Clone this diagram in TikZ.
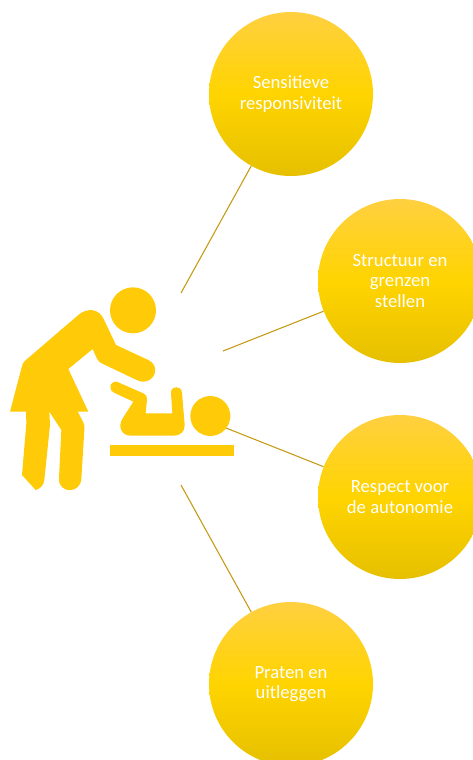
\documentclass[tikz,border=0pt]{standalone}
\usepackage{fontspec}
\setmainfont{Carlito}
\definecolor{icongold}{HTML}{FFCA08}
\definecolor{linegold}{HTML}{C49A12}
\definecolor{balltop}{HTML}{FFD040}
\definecolor{ballmid}{HTML}{FFD400}
\definecolor{ballbottom}{HTML}{E6C000}
\begin{document}
\begin{tikzpicture}[x=0.75pt,y=-0.75pt,
    ball/.style = {circle,minimum size=123pt,inner sep=0pt,align=center,text=white,
        top color=balltop,bottom color=ballbottom,middle color=ballmid,
        font=\fontsize{14}{15.4}\selectfont},
    spoke/.style = {draw=linegold,line width=0.8pt},
    icon/.style = {fill=icongold,draw=none}]
    \useasboundingbox (0,0) rectangle (473,760);

    \coordinate (sensend) at (181,293);
    \coordinate (structend) at (223,351);
    \coordinate (respectend) at (226,428);
    \coordinate (praatend) at (181,485);

    \node[ball] (sens) at (291,94) {Sensitieve\\responsiviteit};
    \node[ball] (struct) at (400,281) {Structuur en\\grenzen\\stellen};
    \node[ball] (respect) at (400,497) {Respect voor\\de autonomie};
    \node[ball] (praat) at (291,684) {Praten en\\uitleggen};

    \draw[spoke] (sens) -- (sensend);
    \draw[spoke] (struct) -- (structend);
    \draw[spoke] (respect) -- (respectend);
    \draw[spoke] (praat) -- (praatend);

    \begin{scope}[yshift=-202.5pt,x=0.25pt,y=-0.25pt]
        \fill[icon] (399,121) circle (17.25pt);
        \fill[icon] (30,425) -- (66,288) .. controls (69,277) and (74,273) .. (80,268)
            -- (235,135) .. controls (262,112) and (297,116) .. (311,147)
            -- (348,225) -- (445,270) .. controls (482,288) and (465,335) .. (430,335)
            .. controls (422,335) and (416,333) .. (410,330)
            -- (305,280) .. controls (295,275) and (292,268) .. (288,260)
            -- (278,237) -- (205,297) -- (265,425) -- (233,425) -- (249,455)
            .. controls (253,463) and (254,470) .. (253,480)
            -- (244,627) .. controls (241,672) and (175,672) .. (177,625)
            -- (184,480) -- (148,425) -- (150,465)
            -- (133,630) .. controls (132,645) and (120,657) .. (107,660)
            -- (66,615) -- (79,460) -- (78,425) -- cycle;
        \fill[icon] (355,337) -- (430,370) .. controls (439,374) and (442,380) .. (441,388)
            -- (437,430) -- (517,430) -- (513,368)
            .. controls (512,346) and (545,346) .. (546,368)
            -- (554,465) .. controls (555,485) and (540,497) .. (522,497)
            -- (392,497) .. controls (365,497) and (352,470) .. (368,445)
            -- (400,395) -- (342,368) .. controls (320,356) and (333,327) .. (355,337) -- cycle;
        \fill[icon] (631,438) circle (15pt);
        \fill[icon] (331,524) rectangle (701,557);
    \end{scope}
\end{tikzpicture}
\end{document}
